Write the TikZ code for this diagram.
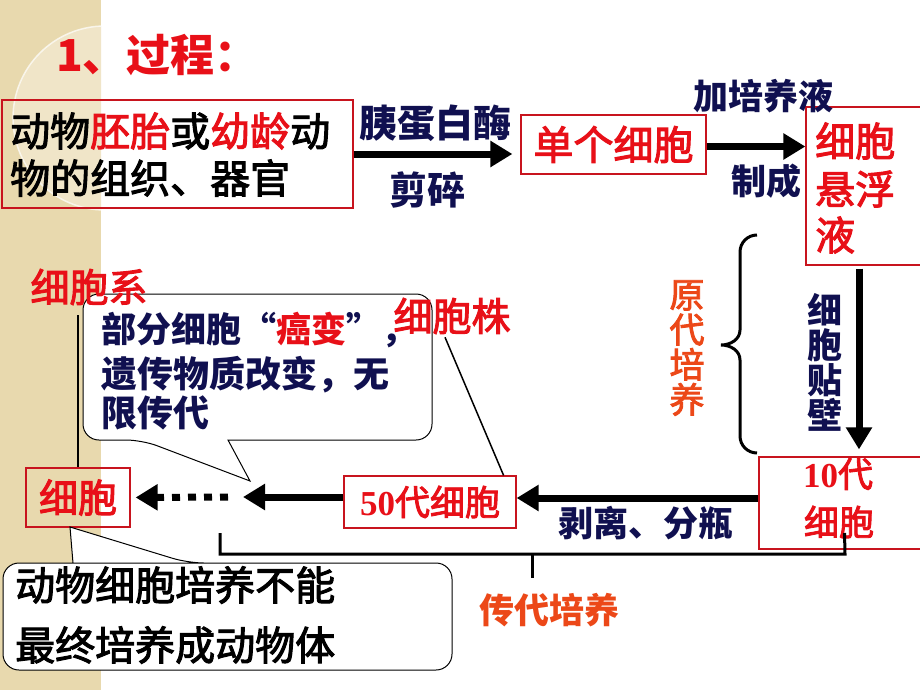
\documentclass[tikz,border=0pt]{standalone}
\usepackage{fontspec}
\setmainfont{Noto Sans CJK SC}
\newfontfamily\medium{Noto Sans CJK SC}[FakeBold=2.5]
\newfontfamily\tnr{Liberation Serif}
\usetikzlibrary{arrows.meta}
\definecolor{myred}{RGB}{232,16,24}
\definecolor{boxred}{RGB}{200,20,30}
\definecolor{navy}{RGB}{16,16,80}
\definecolor{orng}{RGB}{236,72,24}
\definecolor{stripe}{RGB}{232,217,174}
\definecolor{circ}{RGB}{240,229,200}
\tikzset{
  rbox/.style={draw=boxred, line width=1.2pt, inner sep=0pt},
  txt/.style={inner sep=0pt},
  fs/.style={font=\fontsize{#1}{#1}\selectfont\medium},
  fsb/.style={font=\fontsize{#1}{#1}\selectfont\bfseries},
  bigarrow/.style={line width=7pt, -{Triangle[length=22pt,width=25pt]}},
  dotarrow/.style={line width=7pt, dash pattern=on 8pt off 8pt, -{Triangle[length=22pt,width=25pt]}},
  callout/.style={fill=white, draw=black, line width=1pt},
  thinline/.style={line width=1.5pt},
  bracket/.style={line width=3pt},
}
\begin{document}
\begin{tikzpicture}[x=1pt,y=-1pt]
\clip (0,0) rectangle (920,690);
\fill[white] (0,0) rectangle (920,690);
\fill[stripe] (0,0) rectangle (101,690);
\begin{scope}
  \clip (0,0) rectangle (101,690);
  \fill[circ] (105,118) circle[radius=92pt];
  \draw[white, opacity=0.7, line width=1.5pt] (105,118) circle[radius=92pt];
\end{scope}

% title
\node[txt, anchor=west, fsb=44, text=myred] (title) at (56,55) {1、过程：};

% box 1
\node[rbox, minimum width=351pt, minimum height=108pt] (b1) at (177.5,154) {};
\node[txt, anchor=west, fs=40] (t1a) at (10,131) {动物{\color{myred}胚胎}或{\color{myred}幼龄}动};
\node[txt, anchor=west, fs=40] (t1b) at (10,178) {物的组织、器官};

% box 2
\node[rbox, minimum width=185pt, minimum height=59pt, fs=40, text=myred] (b2) at (613.5,144.5) {单个细胞};
\draw[bigarrow, shorten >=8pt] (b1.east) -- (b1.east -| b2.west);
\node[txt, fsb=38, text=navy] (lab1) at (435,123) {胰蛋白酶};
\node[txt, fsb=38, text=navy] (lab2) at (427,190) {剪碎};

% box 3
\node[rbox, minimum width=124pt, minimum height=158pt] (b3) at (868,186) {};
\node[txt, anchor=west, fs=40, text=myred] (t3a) at (815,141) {细胞};
\node[txt, anchor=west, fs=40, text=myred] (t3b) at (815,189) {悬浮};
\node[txt, anchor=west, fs=40, text=myred] (t3c) at (815,235) {液};
\draw[bigarrow] ([yshift=-2pt]b2.east) -- ([yshift=-2pt]b2.east -| b3.west);
\node[txt, fsb=35, text=navy] (lab3) at (763,96) {加培养液};
\node[txt, fsb=35, text=navy] (lab4) at (766,181) {制成};

% box 4
\node[rbox, minimum width=171pt, minimum height=92pt] (b4) at (844.5,503) {};
\node[txt, fs=35, text=myred] (t4a) at (838,474) {{\tnr\bfseries 10}代};
\node[txt, fs=35, text=myred] (t4b) at (839,522) {细胞};
\draw[bigarrow, shorten <=3pt, shorten >=7pt] ([xshift=-9pt]b3.south) -- ([xshift=-9pt]b3.south |- b4.north);
\node[txt, align=center, fsb=35, text=navy] (lab5) at (825,362) {细\\胞\\贴\\壁};
\node[txt, align=center, fs=35, text=orng] (lab6) at (687,348) {原\\代\\培\\养};
\draw[bracket] (757,235) to[out=180,in=90] (740,252) -- (740,330) to[out=270,in=0] (721,345)
  to[out=0,in=90] (740,360) -- (740,436) to[out=270,in=180] (757,453);

% box 5
\node[rbox, minimum width=172pt, minimum height=52pt, fs=35, text=myred] (b5) at (430,502) {{\tnr\bfseries 50}代细胞};
\draw[bigarrow] ([yshift=5pt]b4.west) -- ([yshift=5pt]b4.west -| b5.east);
\node[txt, fsb=35, text=navy] (lab7) at (646,523) {剥离、分瓶};

% box 6
\node[rbox, minimum width=104pt, minimum height=59pt, fs=39, text=myred] (b6) at (78,497.5) {细胞};
\coordinate (m1) at (243,497);
\coordinate (m2) at (228,497);
\draw[bigarrow] ([yshift=5pt]b5.west) -- (m1);
\draw[dotarrow, shorten >=5pt] (m2) -- (b6.east);

% callout 1
\draw[callout] (300,294) [rounded corners=16pt] -- (83,294) -- (83,440) -- (142,440) [sharp corners] -- (250,481) -- (228,440) [rounded corners=16pt] -- (432,440) -- (432,294) -- cycle;
\node[txt, anchor=west, fsb=35, text=navy] (c1a) at (101,330) {部分细胞“{\color{myred}癌变}”，};
\node[txt, anchor=west, fsb=36, text=navy] (c1b) at (101,375) {遗传物质改变，无};
\node[txt, anchor=west, fsb=36, text=navy] (c1c) at (101,413) {限传代};

% cell line / strain
\node[txt, fs=39, text=myred] (xi) at (89,287) {细胞系};
\draw[line width=2.5pt, shorten <=10pt] (b6.north |- xi.south) -- (b6.north);
\node[txt, fs=39, text=myred] (zhu) at (452,316) {细胞株};
\draw[thinline] ([xshift=-7pt,yshift=-3pt]zhu.south) -- ([xshift=-13pt]b5.north east);

% bracket for passage culture
\draw[bracket] (b4.south |- 0,533) -- (845,554) -- (220,554) -- (220,533);
\coordinate (stem) at (532,578);
\draw[bracket] (532,554) -- (stem);
\node[txt, fsb=35, text=orng] (lab8) at (549,610) {传代培养};

% callout 2
\draw[callout] (300,563) [rounded corners=16pt] -- (3,563) -- (3,670) -- (452,670) -- (452,563) -- (188,563) [sharp corners] -- (70,527) -- (73,563) [rounded corners=16pt] -- cycle;
\node[txt, anchor=west, fs=40] (c2a) at (15,585) {动物细胞培养不能};
\node[txt, anchor=west, fs=40] (c2b) at (15,645) {最终培养成动物体};
\end{tikzpicture}
\end{document}
